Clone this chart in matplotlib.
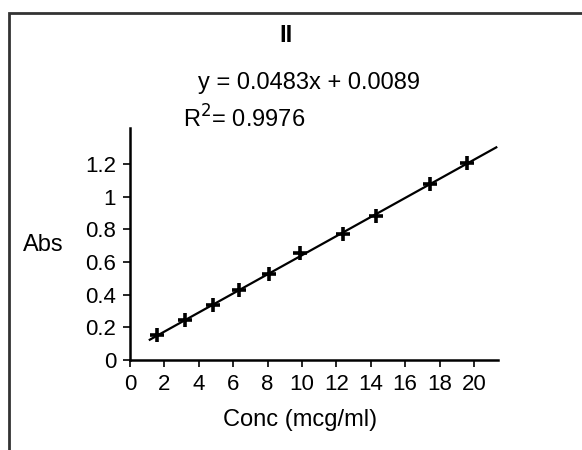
import matplotlib.pyplot as plt
import numpy as np
from matplotlib.patches import Rectangle

plt.rcParams['font.family'] = ['Liberation Sans', 'DejaVu Sans']

# Calibration data
conc = [1.59, 3.20, 4.84, 6.35, 8.10, 9.88, 12.40, 14.30, 17.44, 19.58]
absorb = [0.151, 0.245, 0.335, 0.429, 0.528, 0.653, 0.770, 0.882, 1.076, 1.208]
x_ticks = [0, 2, 4, 6, 8, 10, 12, 14, 16, 18, 20]
y_ticks = [0, 0.2, 0.4, 0.6, 0.8, 1, 1.2]
y_labels = ['0', '0.2', '0.4', '0.6', '0.8', '1', '1.2']

fig = plt.figure(figsize=(5.82, 4.5), dpi=100)
ax = fig.add_axes([130 / 582, 90 / 450, 368 / 582, 232 / 450])

# trend line through the points
slope, icpt = np.polyfit(conc, absorb, 1)
xl = np.array([1.15, 21.3])
ax.plot(xl, slope * xl + icpt, color='black', lw=1.6)
ax.plot(conc, absorb, linestyle='none', marker='+', color='black',
        markersize=10, markeredgewidth=2.6)

ax.set_xlim(0, 21.4)
ax.set_ylim(0, 1.42)
ax.set_xticks(x_ticks)
ax.set_yticks(y_ticks)
ax.set_yticklabels(y_labels)
ax.tick_params(labelsize=16, length=5, width=1.2, direction='out')
ax.tick_params(axis='x', pad=5)
ax.tick_params(axis='y', pad=5)
for s in ['top', 'right']:
    ax.spines[s].set_visible(False)
for s in ['left', 'bottom']:
    ax.spines[s].set_linewidth(1.8)

fig.text(300 / 582, 1 - 420 / 450, 'Conc (mcg/ml)', fontsize=17,
         ha='center', va='center')
fig.text(43 / 582, 1 - 245 / 450, 'Abs', fontsize=17, ha='center', va='center')

fig.text(286 / 582, 1 - 36 / 450, 'II', fontsize=17, fontweight='bold',
         ha='center', va='center')
fig.text(309 / 582, 1 - 83 / 450, 'y = 0.0483x + 0.0089', fontsize=17,
         ha='center', va='center')
fig.text(183 / 582, 1 - 119 / 450, 'R$^2$= 0.9976', fontsize=17,
         ha='left', va='center')

# outer frame (only top and left edges visible)
fig.add_artist(Rectangle((9 / 582, -0.2), 1.2, 1 - 13 / 450 + 0.2,
                         transform=fig.transFigure, fill=False,
                         edgecolor='#333333', linewidth=2))

fig.savefig('out.png', dpi=100)
